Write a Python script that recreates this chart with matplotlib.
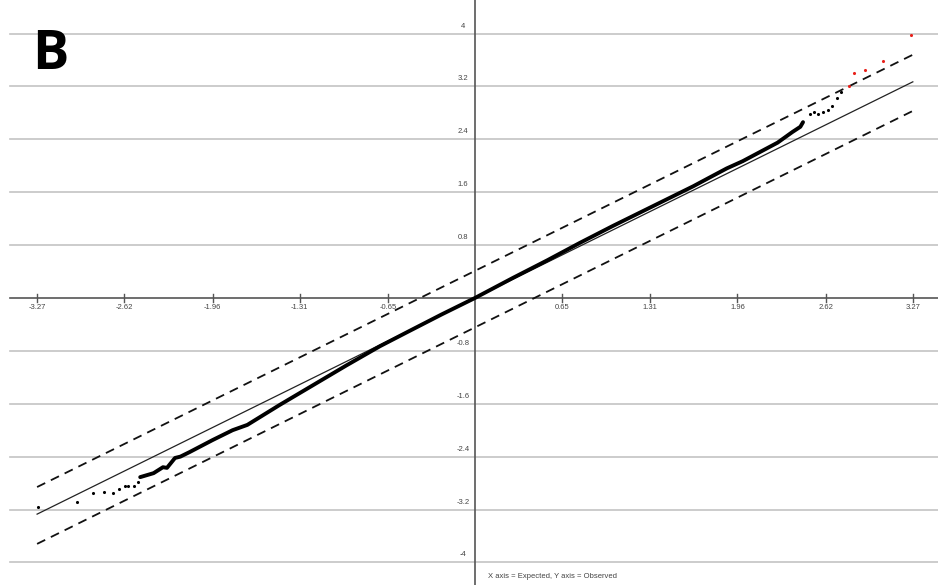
import matplotlib
matplotlib.use("Agg")
import matplotlib.pyplot as plt

# QQ plot: dense body (expected, observed)
body_x = [-2.50, -2.45, -2.40, -2.33, -2.30, -2.24, -2.20, -2.13, -1.96, -1.81,
          -1.70, -1.46, -1.21, -0.96, -0.71, -0.50, -0.25, 0.00, 0.28, 0.54,
          0.78, 1.03, 1.28, 1.53, 1.63, 1.75, 1.88, 2.00, 2.13, 2.26,
          2.37, 2.43, 2.45]
body_y = [-2.71, -2.68, -2.65, -2.56, -2.57, -2.42, -2.40, -2.33, -2.15, -2.00,
          -1.92, -1.62, -1.32, -1.02, -0.73, -0.51, -0.25, 0.00, 0.30, 0.57,
          0.83, 1.09, 1.34, 1.59, 1.69, 1.82, 1.96, 2.07, 2.21, 2.35,
          2.51, 2.59, 2.66]

# sparse tail points
tail_x = [-3.26, -2.97, -2.85, -2.77, -2.70, -2.66, -2.61, -2.59, -2.55, -2.52,
          2.50, 2.53, 2.56, 2.60, 2.64, 2.67, 2.70, 2.73]
tail_y = [-3.16, -3.08, -2.95, -2.94, -2.95, -2.89, -2.85, -2.85, -2.84, -2.79,
          2.78, 2.81, 2.79, 2.82, 2.85, 2.91, 3.02, 3.11]

# outliers marked red
red_x = [2.79, 2.83, 2.91, 3.05, 3.26]
red_y = [3.20, 3.41, 3.45, 3.59, 3.98]

# reference line and confidence band end points
ref_x = [-3.27, 3.27]
ref_y = [-3.27, 3.27]
upper_y = [-2.86, 3.68]
lower_y = [-3.72, 2.83]

x_ticks = [-3.27, -2.62, -1.96, -1.31, -0.65, 0.65, 1.31, 1.96, 2.62, 3.27]
x_labels = ["-3.27", "-2.62", "-1.96", "-1.31", "-0.65", "0.65", "1.31", "1.96", "2.62", "3.27"]
y_ticks = [4, 3.2, 2.4, 1.6, 0.8, -0.8, -1.6, -2.4, -3.2, -4]
y_labels = ["4", "3.2", "2.4", "1.6", "0.8", "-0.8", "-1.6", "-2.4", "-3.2", "-4"]

small_font = ["Liberation Sans Narrow", "Liberation Sans", "DejaVu Sans"]

fig = plt.figure(figsize=(9.38, 5.85), dpi=100)
ax = fig.add_axes([0, 0, 1, 1])
ax.set_xlim(-3.547, 3.458)
ax.set_ylim(-4.342, 4.508)
ax.axis("off")

x_left = -3.47
for y in y_ticks:
    ax.plot([x_left, 3.458], [y, y], color="#c4c4c4", lw=1.2, zorder=1)

# axes
ax.plot([x_left, 3.458], [0, 0], color="#555555", lw=1.2, zorder=2)
ax.plot([0, 0], [-4.342, 4.508], color="#555555", lw=1.2, zorder=2)
for t, lab in zip(x_ticks, x_labels):
    ax.plot([t, t], [-0.06, 0.06], color="#555555", lw=1.0, zorder=2)
    ax.text(t, -0.09, lab, ha="center", va="top", fontsize=5.5,
            color="#444444", family=small_font)
for t, lab in zip(y_ticks, y_labels):
    ax.text(-0.09, t + 0.06, lab, ha="center", va="bottom", fontsize=5.5,
            color="#444444", family=small_font)

# lines
ax.plot(ref_x, ref_y, color="#222222", lw=0.9, zorder=3)
ax.plot(ref_x, upper_y, color="#111111", lw=1.3, ls=(0, (5, 3.5)), zorder=3)
ax.plot(ref_x, lower_y, color="#111111", lw=1.3, ls=(0, (5, 3.5)), zorder=3)

# data
ax.plot(body_x, body_y, color="black", lw=2.8, solid_capstyle="round", zorder=4)
ax.scatter(tail_x, tail_y, s=5, color="black", marker="o", lw=0, zorder=4)
ax.scatter(red_x, red_y, s=5, color="#e8201a", marker="o", lw=0, zorder=4)

ax.text(0.1, -4.22, "X axis = Expected, Y axis = Observed", ha="left", va="center",
        fontsize=5.5, color="#444444", family=small_font)

ax.text(-3.31, 3.47, "B", ha="left", va="baseline", fontsize=39,
        fontweight="bold", family=["Open Sans", "DejaVu Sans"], color="black",
        zorder=5)

fig.savefig("out.png", dpi=100)
